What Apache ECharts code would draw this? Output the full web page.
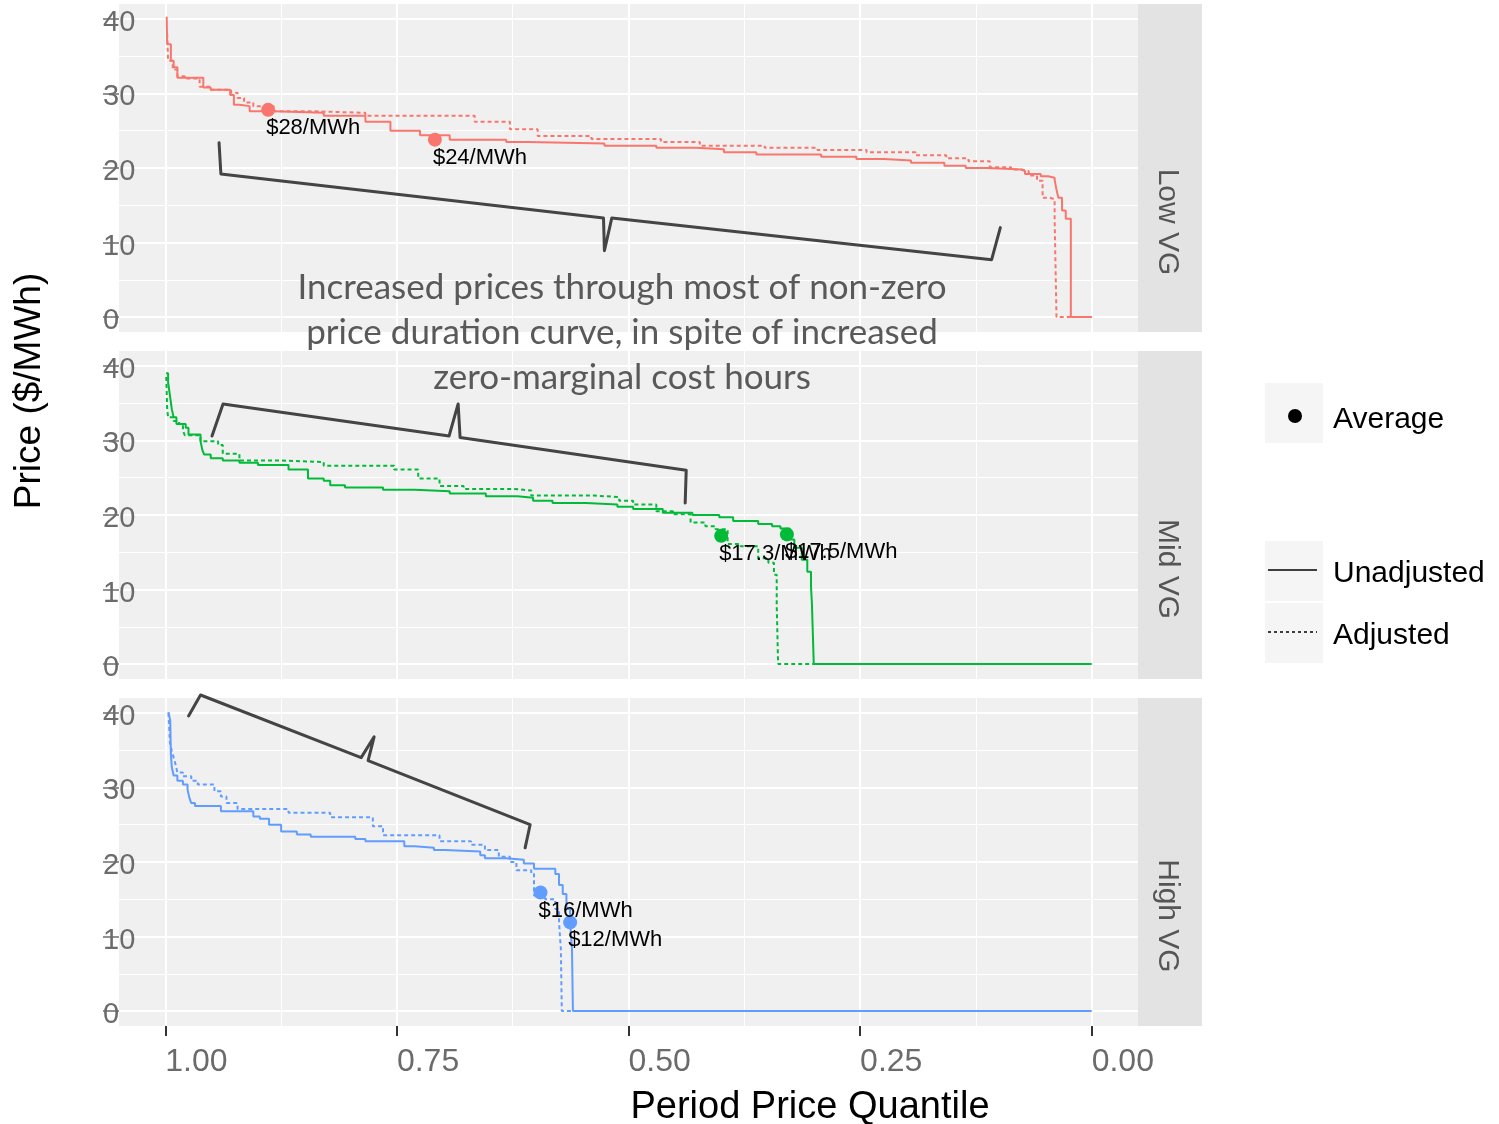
<!DOCTYPE html>
<html>
<head>
<meta charset="utf-8">
<script src="https://cdn.jsdelivr.net/npm/echarts@6/dist/echarts.min.js"></script>
<style>
  html, body { margin: 0; background: #fff; }
  #chart { width: 1499px; height: 1124px; }
</style>
</head>
<body>
<div id="chart"></div>
<script>
// facets and colours
var panels = ['Low VG', 'Mid VG', 'High VG'];
var panelColors = ['#F8766D', '#00BA38', '#619CFF'];

// axis breaks
var xTicks = [1, 0.75, 0.5, 0.25, 0];
var xMinor = [0.875, 0.625, 0.375, 0.125];
var yTicks = [0, 10, 20, 30, 40];
var yMinor = [5, 15, 25, 35];

// price duration curves: quantile where a step starts, price of that step
var lowUnadjQ = [0.9985, 0.998, 0.994, 0.991, 0.987, 0.959, 0.951, 0.930, 0.926, 0.920, 0.909, 0.883, 0.829, 0.784, 0.757, 0.725, 0.693, 0.632, 0.609, 0.526, 0.470, 0.427, 0.397, 0.362, 0.292, 0.254, 0.224, 0.195, 0.159, 0.136, 0.112, 0.076, 0.072, 0.055, 0.047, 0.040, 0.038, 0.036, 0.032, 0.028, 0.0225, 0];
var lowUnadjP = [40.3, 36.6, 34.4, 33.5, 32.1, 30.8, 30.5, 29.8, 28.5, 28.3, 27.6, 27.4, 27.0, 26.2, 25.0, 24.4, 23.8, 23.5, 23.3, 23.0, 22.7, 22.5, 22.1, 21.8, 21.5, 21.2, 21.0, 20.7, 20.3, 20.0, 19.8, 19.6, 19.2, 18.9, 18.7, 18.4, 17.1, 16.0, 14.3, 13.2, 0, 0];
var lowAdjQ = [0.998, 0.997, 0.992, 0.987, 0.979, 0.963, 0.951, 0.929, 0.922, 0.915, 0.905, 0.883, 0.837, 0.784, 0.666, 0.628, 0.598, 0.540, 0.465, 0.423, 0.353, 0.296, 0.243, 0.190, 0.157, 0.133, 0.110, 0.087, 0.076, 0.068, 0.059, 0.053, 0.045, 0.040, 0.038, 0];
var lowAdjP = [38.0, 34.4, 33.2, 32.3, 32.0, 30.9, 30.5, 30.1, 29.4, 28.8, 28.3, 27.6, 27.4, 27.0, 26.2, 25.2, 24.3, 23.9, 23.5, 23.0, 22.7, 22.4, 22.1, 21.7, 21.3, 20.9, 20.1, 19.8, 19.6, 19.0, 18.3, 16.0, 15.8, 13.1, 0, 0];

var midUnadjQ = [0.9992, 0.997, 0.995, 0.993, 0.991, 0.988, 0.978, 0.975, 0.962, 0.960, 0.958, 0.951, 0.938, 0.920, 0.900, 0.867, 0.846, 0.829, 0.822, 0.806, 0.765, 0.731, 0.693, 0.654, 0.620, 0.603, 0.582, 0.546, 0.512, 0.495, 0.463, 0.431, 0.402, 0.387, 0.360, 0.345, 0.336, 0.326, 0.321, 0.313, 0.307, 0.303, 0.302, 0.300, 0];
var midUnadjP = [39.0, 37.8, 36.0, 34.2, 33.1, 32.2, 31.7, 30.8, 29.9, 28.7, 28.1, 27.6, 27.3, 27.0, 26.7, 26.1, 24.9, 24.6, 24.0, 23.7, 23.4, 23.2, 22.9, 22.5, 22.3, 21.9, 21.6, 21.4, 21.1, 20.8, 20.3, 20.0, 19.7, 19.2, 18.8, 18.5, 18.2, 16.7, 15.6, 14.0, 12.4, 10.4, 8.1, 0, 0];
var midAdjQ = [0.999, 0.998, 0.997, 0.991, 0.985, 0.981, 0.979, 0.962, 0.943, 0.938, 0.920, 0.875, 0.829, 0.753, 0.727, 0.704, 0.678, 0.624, 0.605, 0.537, 0.510, 0.495, 0.470, 0.452, 0.433, 0.417, 0.406, 0.393, 0.379, 0.360, 0.349, 0.343, 0.340, 0.3385, 0];
var midAdjP = [38.5, 34.2, 33.1, 32.6, 32.2, 31.3, 30.7, 29.9, 29.4, 28.2, 27.3, 27.1, 26.6, 26.1, 24.9, 23.9, 23.5, 23.3, 22.6, 22.4, 21.9, 21.4, 20.5, 20.1, 19.0, 18.5, 18.1, 16.1, 15.8, 14.2, 13.6, 12.0, 7.9, 0, 0];

var highUnadjQ = [0.9966, 0.9947, 0.994, 0.993, 0.991, 0.987, 0.981, 0.976, 0.974, 0.972, 0.968, 0.940, 0.905, 0.898, 0.888, 0.875, 0.858, 0.843, 0.795, 0.784, 0.742, 0.731, 0.710, 0.698, 0.660, 0.655, 0.632, 0.613, 0.602, 0.579, 0.575, 0.571, 0.567, 0.563, 0.561, 0.560, 0];
var highUnadjP = [40.1, 39.0, 34.5, 32.7, 31.6, 30.9, 30.4, 29.7, 28.6, 27.9, 27.5, 26.8, 26.1, 25.8, 25.0, 24.1, 23.7, 23.4, 23.1, 22.8, 22.1, 21.9, 21.6, 21.4, 20.9, 20.5, 20.3, 19.8, 19.1, 18.4, 16.9, 15.7, 13.7, 11.9, 8.3, 0, 0];
var highAdjQ = [0.9966, 0.995, 0.993, 0.991, 0.989, 0.987, 0.981, 0.972, 0.965, 0.947, 0.940, 0.934, 0.922, 0.867, 0.822, 0.776, 0.765, 0.704, 0.670, 0.655, 0.640, 0.628, 0.621, 0.605, 0.602, 0.590, 0.579, 0.575, 0.573, 0.572, 0];
var highAdjP = [40.0, 36.0, 34.9, 34.0, 33.1, 32.0, 31.5, 30.9, 30.4, 29.5, 28.8, 27.9, 27.1, 26.6, 26.0, 24.8, 23.6, 22.8, 22.3, 21.6, 20.7, 20.0, 18.9, 18.4, 15.5, 15.0, 13.7, 11.9, 8.3, 0, 0];

// average price markers
var lowAvgQ = [0.889, 0.709];
var lowAvgP = [27.8, 23.8];
var lowAvgLabels = ['$28/MWh', '$24/MWh'];
var midAvgQ = [0.400, 0.329];
var midAvgP = [17.2, 17.4];
var midAvgLabels = ['$17.3/MWh', '$17.5/MWh'];
var highAvgQ = [0.595, 0.563];
var highAvgP = [15.9, 11.9];
var highAvgLabels = ['$16/MWh', '$12/MWh'];

// hand drawn braces (annotation), in data units
var lowBraceQ = [0.942, 0.940, 0.527, 0.526, 0.518, 0.108, 0.0986];
var lowBraceP = [23.4, 19.2, 13.3, 8.9, 13.3, 7.7, 12.0];
var midBraceQ = [0.9496, 0.9377, 0.6937, 0.6839, 0.6818, 0.4377, 0.4388];
var midBraceP = [30.6, 34.9, 30.6, 34.9, 30.4, 26.0, 21.6];
var highBraceQ = [0.9749, 0.9620, 0.7886, 0.7746, 0.7811, 0.6062, 0.6116];
var highBraceP = [39.6, 42.4, 34.0, 36.8, 33.6, 25.0, 21.9];

var annotation = 'Increased prices through most of non-zero\nprice duration curve, in spite of increased\nzero-marginal cost hours';

function zip(a, b) {
    return a.map(function(v, i) { return [v, b[i]]; });
}

var curves = [
    [lowUnadjQ, lowUnadjP, lowAdjQ, lowAdjP],
    [midUnadjQ, midUnadjP, midAdjQ, midAdjP],
    [highUnadjQ, highUnadjP, highAdjQ, highAdjP]
];
var avgs = [
    [lowAvgQ, lowAvgP, lowAvgLabels],
    [midAvgQ, midAvgP, midAvgLabels],
    [highAvgQ, highAvgP, highAvgLabels]
];
var braces = [
    [lowBraceQ, lowBraceP],
    [midBraceQ, midBraceP],
    [highBraceQ, highBraceP]
];

var chart = echarts.init(document.getElementById('chart'));

var tops = [4, 351, 698];
var panelH = 328;
var sans = '"Liberation Sans", Arial, sans-serif';

var grids = [], xAxes = [], yAxes = [], series = [], graphics = [];

tops.forEach(function(top, i) {
    grids.push({
        left: 119, top: top, width: 1019, height: panelH,
        show: true, backgroundColor: '#F0F0F0', borderWidth: 0
    });

    var last = i === tops.length - 1;
    // major x
    xAxes.push({
        type: 'value', gridIndex: i, min: -0.05, max: 1.05, inverse: true,
        axisLine: { show: false, onZero: false },
        axisTick: {
            show: last, customValues: xTicks, length: 10,
            lineStyle: { color: '#333', width: 2 }
        },
        axisLabel: {
            show: last, customValues: xTicks, align: 'left', margin: 20,
            fontSize: 32, color: '#6b6b6b', fontFamily: sans,
            formatter: function(v) { return v.toFixed(2); }
        },
        splitLine: { show: true, lineStyle: { color: '#fff', width: 2 } }
    });
    // minor x
    xAxes.push({
        type: 'value', gridIndex: i, min: -0.05, max: 1.05, inverse: true,
        axisLine: { show: false, onZero: false },
        axisTick: { show: false, customValues: xMinor },
        axisLabel: { show: false, customValues: xMinor },
        splitLine: { show: true, lineStyle: { color: '#fff', width: 1 } }
    });
    // major y
    yAxes.push({
        type: 'value', gridIndex: i, min: -2, max: 42,
        axisLine: { show: false, onZero: false },
        axisTick: {
            show: true, customValues: yTicks, length: 16,
            lineStyle: { color: '#6d6d6d', width: 1.5 }
        },
        axisLabel: {
            customValues: yTicks, margin: 16, align: 'left',
            verticalAlign: 'top', lineHeight: 8,
            fontSize: 29, color: '#6b6b6b', fontFamily: sans
        },
        splitLine: { show: true, lineStyle: { color: '#fff', width: 2 } }
    });
    // minor y
    yAxes.push({
        type: 'value', gridIndex: i, min: -2, max: 42,
        axisLine: { show: false, onZero: false },
        axisTick: { show: false, customValues: yMinor },
        axisLabel: { show: false, customValues: yMinor },
        splitLine: { show: true, lineStyle: { color: '#fff', width: 1 } }
    });

    var xi = i * 2, yi = i * 2;
    var c = curves[i];
    series.push({
        type: 'line', name: panels[i] + ' Unadjusted', xAxisIndex: xi, yAxisIndex: yi,
        step: 'end', showSymbol: false, z: 3,
        lineStyle: { color: panelColors[i], width: 2 },
        data: zip(c[0], c[1])
    });
    series.push({
        type: 'line', name: panels[i] + ' Adjusted', xAxisIndex: xi, yAxisIndex: yi,
        step: 'end', showSymbol: false, z: 3,
        lineStyle: { color: panelColors[i], width: 2, type: [4, 3] },
        data: zip(c[2], c[3])
    });
    var a = avgs[i];
    series.push({
        type: 'scatter', name: panels[i] + ' Average', xAxisIndex: xi, yAxisIndex: yi,
        symbolSize: 14, z: 4,
        itemStyle: { color: panelColors[i], opacity: 1 },
        label: {
            show: true, position: [5, 14], align: 'left', verticalAlign: 'top',
            fontSize: 22, color: '#000', fontFamily: sans,
            formatter: function(p) { return p.name; }
        },
        data: a[0].map(function(q, k) { return { name: a[2][k], value: [q, a[1][k]] }; })
    });
    var b = braces[i];
    series.push({
        type: 'line', name: panels[i] + ' brace', xAxisIndex: xi, yAxisIndex: yi,
        showSymbol: false, clip: false, z: 5, silent: true,
        lineStyle: { color: '#444', width: 3, join: 'round', cap: 'round' },
        data: zip(b[0], b[1])
    });

    // facet strip
    graphics.push({
        type: 'rect', shape: { x: 1138, y: top, width: 64, height: panelH },
        style: { fill: '#E3E3E3' }
    });
    graphics.push({
        type: 'text', x: 1167, y: top + 218, rotation: -Math.PI / 2,
        style: {
            text: panels[i], fill: '#555', font: '30px ' + sans,
            align: 'center', verticalAlign: 'middle'
        }
    });
});

// legend
graphics.push(
    { type: 'rect', shape: { x: 1265, y: 383, width: 58, height: 60 }, style: { fill: '#F5F5F5' } },
    { type: 'circle', shape: { cx: 1295, cy: 416, r: 7 }, style: { fill: '#000' } },
    { type: 'text', x: 1333, y: 420, style: { text: 'Average', fill: '#000', font: '30px ' + sans, verticalAlign: 'middle' } },
    { type: 'rect', shape: { x: 1265, y: 541, width: 58, height: 60 }, style: { fill: '#F5F5F5' } },
    { type: 'line', shape: { x1: 1268, y1: 570, x2: 1317, y2: 570 }, style: { stroke: '#000', lineWidth: 1.5 } },
    { type: 'text', x: 1333, y: 574, style: { text: 'Unadjusted', fill: '#000', font: '30px ' + sans, verticalAlign: 'middle' } },
    { type: 'rect', shape: { x: 1265, y: 603, width: 58, height: 60 }, style: { fill: '#F5F5F5' } },
    { type: 'line', shape: { x1: 1268, y1: 632, x2: 1317, y2: 632 }, style: { stroke: '#000', lineWidth: 1.5, lineDash: [3, 3] } },
    { type: 'text', x: 1333, y: 636, style: { text: 'Adjusted', fill: '#000', font: '30px ' + sans, verticalAlign: 'middle' } }
);

// axis titles
graphics.push(
    { type: 'text', x: 30, y: 391, rotation: Math.PI / 2,
      style: { text: 'Price ($/MWh)', fill: '#000', font: '37px ' + sans, align: 'center', verticalAlign: 'middle' } },
    { type: 'text', x: 810, y: 1108,
      style: { text: 'Period Price Quantile', fill: '#000', font: '38px ' + sans, align: 'center', verticalAlign: 'middle' } }
);

// annotation
graphics.push({
    type: 'text', x: 622, y: 333, z: 100,
    style: {
        text: annotation, fill: '#595959', font: '35px Lato, "Open Sans", sans-serif',
        align: 'center', verticalAlign: 'middle', lineHeight: 45
    }
});

chart.setOption({
    animation: false,
    grid: grids,
    xAxis: xAxes,
    yAxis: yAxes,
    series: series,
    graphic: graphics
});
</script>
</body>
</html>
